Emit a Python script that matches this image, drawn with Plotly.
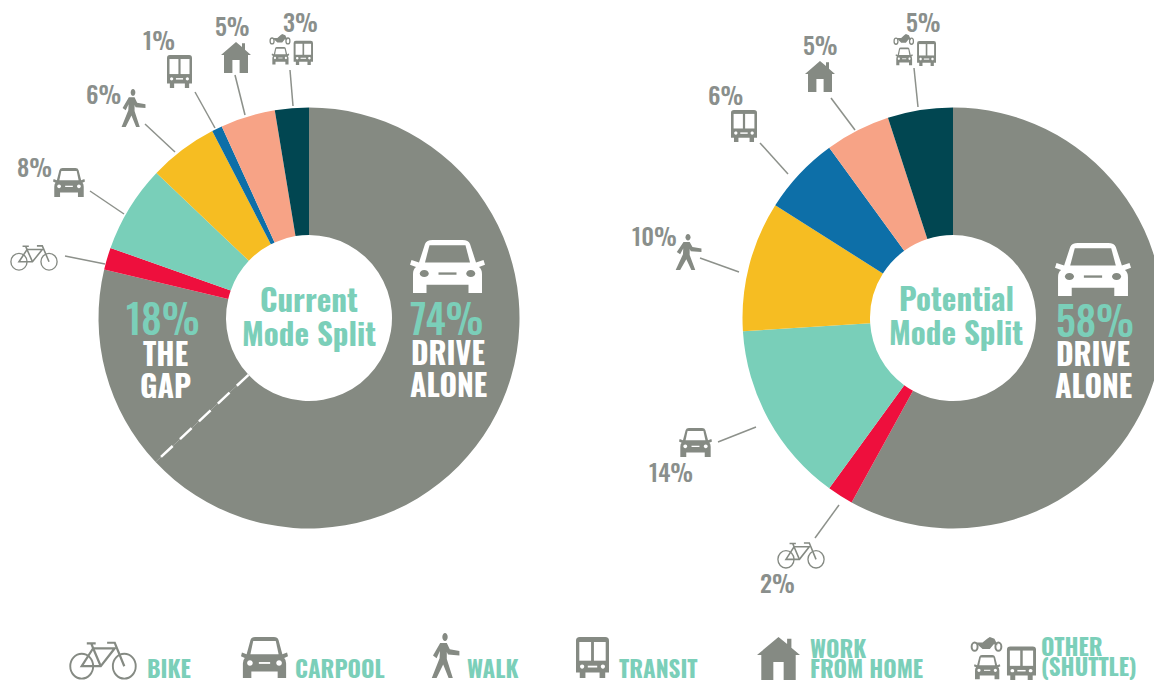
import math, re
import plotly.graph_objects as go

W, H = 1170, 684
GRAY = "#858a82"; TEAL = "#7bcfb9"; WHITE = "#ffffff"; ICON = "#858a83"
FONT = "Liberation Sans Narrow, Oswald, Arial Narrow, sans-serif"

# --- data -------------------------------------------------------------
categories = ["Drive alone", "The gap", "Bike", "Carpool", "Walk", "Transit", "Work from home", "Other (shuttle)"]
slice_colors = ["#858a82", "#858a82", "#ee0f3d", "#79cfb9", "#f6bd22", "#0d6fa8", "#f7a386", "#014651"]
current_values = [63.0, 15.7, 1.7, 6.7, 5.3, 0.8, 4.2, 2.6]
potential_values = [58, 0, 2, 14, 10, 6, 5, 5]

current_labels = ["3%", "5%", "1%", "6%", "8%"]
potential_labels = ["5%", "5%", "6%", "10%", "14%", "2%"]
legend_labels = ["BIKE", "CARPOOL", "WALK", "TRANSIT", "WORK", "FROM HOME", "OTHER", "(SHUTTLE)"]

# --- placement --------------------------------------------------------
CL = (309, 318); CR = (953, 318); R = 210.5; HOLE = 83
shapes, ann = [], []

def px(x): return x / W
def py(y): return 1 - y / H

def text(x, y, s, size, color, weight=700):
    ann.append(dict(x=px(x), y=py(y), xref="paper", yref="paper", showarrow=False,
                    text=s, xanchor="center", yanchor="middle",
                    font=dict(family=FONT, size=size, color=color, weight=weight)))

def line(x0, y0, x1, y1, color="#8d918b", width=1.5, dash=None):
    shapes.append(dict(type="line", xref="paper", yref="paper", x0=px(x0), y0=py(y0), x1=px(x1), y1=py(y1),
                       line=dict(color=color, width=width, dash=dash)))

def circ(cx, cy, r):
    k = 0.5523 * r
    return (f"M{cx-r},{cy} C{cx-r},{cy-k} {cx-k},{cy-r} {cx},{cy-r} C{cx+k},{cy-r} {cx+r},{cy-k} {cx+r},{cy} "
            f"C{cx+r},{cy+k} {cx+k},{cy+r} {cx},{cy+r} C{cx-k},{cy+r} {cx-r},{cy+k} {cx-r},{cy} Z")

def place(parts, box, x0, y0, x1, y1, color, hole):
    bw, bh = box
    sx, sy = (x1 - x0) / bw, (y1 - y0) / bh
    def tr(m):
        return f"{px(x0 + float(m.group(1)) * sx):.5f},{py(y0 + float(m.group(2)) * sy):.5f}"
    for kind, path, *rest in parts:
        p = re.sub(r"(-?[\d.]+),(-?[\d.]+)", tr, path)
        if kind == "fill":
            shapes.append(dict(type="path", xref="paper", yref="paper", path=p, fillcolor=color, line=dict(width=0)))
        elif kind == "hole":
            shapes.append(dict(type="path", xref="paper", yref="paper", path=p, fillcolor=hole, line=dict(width=0)))
        else:
            shapes.append(dict(type="path", xref="paper", yref="paper", path=p, fillcolor="rgba(0,0,0,0)",
                               line=dict(color=color, width=rest[0] * sx)))

CAR = [("fill", "M12,38 L20,7 Q22,0 30,0 L70,0 Q78,0 80,7 L88,38 L98,34 L100,42 L92,46 Q96,50 96,58 L96,90 L78,90 "
                "L78,76 L22,76 L22,90 L4,90 L4,58 Q4,50 8,46 L0,42 L2,34 Z"),
       ("hole", "M26,9 L74,9 L80,38 L20,38 Z"),
       ("hole", circ(19, 57, 6)), ("hole", circ(81, 57, 6)),
       ("hole", "M38,55 L62,55 L62,59 L38,59 Z")]
HOUSE = [("fill", "M50,0 L70,16 L70,4 L80,4 L80,25 L100,42 L90,42 L90,100 L62,100 L62,58 L38,58 L38,100 L10,100 L10,42 L0,42 Z")]
BUS = [("fill", "M8,0 L62,0 Q70,0 70,8 L70,78 L62,78 L62,90 L50,90 L50,78 L20,78 L20,90 L8,90 L8,78 L0,78 L0,8 Q0,0 8,0 Z"),
       ("hole", "M7,11 L32,11 L32,52 L7,52 Z"), ("hole", "M38,11 L63,11 L63,52 L38,52 Z"),
       ("hole", circ(13, 65, 4.5)), ("hole", circ(57, 65, 4.5)), ("hole", "M25,63 L45,63 L45,67 L25,67 Z")]
WALK = [("fill", circ(50, 9, 9)),
        ("fill", "M34,22 L56,22 L66,36 L98,40 L98,50 L60,48 L56,42 L56,58 L76,100 L62,100 L44,70 L22,100 L6,100 "
                 "L32,56 L33,40 L22,56 L10,50 Z")]
BIKE = [("stroke", circ(20, 38, 18), 3), ("stroke", circ(87, 38, 18), 3),
        ("stroke", "M20,38 L38,12 L72,12 L50,38 Z", 3.5),
        ("stroke", "M38,12 L50,38 M87,38 L72,4 L60,4 M38,12 L35,5 M28,5 L42,5", 3.5)]
MOTO = [("stroke", circ(14, 21, 9), 6), ("stroke", circ(86, 21, 9), 6),
        ("fill", "M16,12 L38,12 L52,4 L60,0 L74,4 L84,18 L72,16 L60,26 L38,26 Z")]

def compose(x0, y0, x1, y1, color, hole):
    w, h = x1 - x0, y1 - y0
    place(MOTO, (100, 30), x0, y0, x0 + 0.5 * w, y0 + 0.32 * h, color, hole)
    place(CAR, (100, 90), x0 + 0.06 * w, y0 + 0.42 * h, x0 + 0.46 * w, y1 - 0.02 * h, color, hole)
    place(BUS, (70, 90), x0 + 0.56 * w, y0 + 0.22 * h, x1, y1, color, hole)

def icon(kind, x0, y0, x1, y1, color=ICON, hole=WHITE):
    if kind == "other":
        compose(x0, y0, x1, y1, color, hole)
    else:
        parts, box = {"car": (CAR, (100, 90)), "house": (HOUSE, (100, 100)), "bus": (BUS, (70, 90)),
                      "walk": (WALK, (100, 100)), "bike": (BIKE, (107, 58))}[kind]
        place(parts, box, x0, y0, x1, y1, color, hole)

# --- figure -----------------------------------------------------------
def pie(vals, c):
    return go.Pie(values=vals, labels=categories, sort=False, direction="clockwise", rotation=0, hole=HOLE / R,
                  marker=dict(colors=slice_colors, line=dict(width=0)), textinfo="none", hoverinfo="label+percent",
                  showlegend=False, automargin=False,
                  domain=dict(x=[px(c[0] - R), px(c[0] + R)], y=[py(c[1] + R), py(c[1] - R)]))

# dashed border between drive alone and the gap, from the data
ang = math.radians(360 * current_values[0] / sum(current_values))
line(CL[0] + HOLE * math.sin(ang), CL[1] - HOLE * math.cos(ang),
     CL[0] + R * math.sin(ang), CL[1] - R * math.cos(ang), color=WHITE, width=2.5, dash="16px,10px")

# leader lines
for seg in [(65, 256, 105, 264), (90, 191, 124, 214), (145, 124, 175, 152), (195, 92, 215, 128),
            (235, 75, 245, 115), (290, 70, 293, 106),
            (914, 68, 918, 107), (831, 98, 855, 130), (760, 143, 788, 174), (700, 258, 739, 272),
            (718, 442, 756, 427), (839, 505, 815, 538)]:
    line(*seg)

# chart icons
for it in [("bike", 10, 244, 58, 271), ("car", 53, 168, 85, 197), ("walk", 120, 89, 146, 127),
           ("bus", 167, 55, 192, 88), ("house", 221, 42, 251, 73), ("other", 269, 34, 313, 65),
           ("other", 893, 34, 936, 66), ("house", 805, 61, 835, 92), ("bus", 731, 110, 757, 142),
           ("walk", 674, 234, 702, 270), ("car", 679, 428, 712, 457), ("bike", 777, 541, 825, 569)]:
    icon(*it)
icon("car", 410, 240, 485, 293, WHITE, GRAY)
icon("car", 1055, 243, 1131, 296, WHITE, GRAY)

# legend icons
for it in [("bike", 69, 640, 137, 680), ("car", 241, 637, 288, 678), ("walk", 430, 633, 460, 678),
           ("bus", 576, 637, 609, 678), ("house", 757, 637, 800, 680), ("other", 970, 637, 1036, 680)]:
    icon(*it)

# percent labels
PCT = "#8a8f8c"
for (x, y), s in zip([(301, 21), (233, 25), (159, 39), (103, 93), (34, 166)], current_labels):
    text(x, y, s, 24, PCT, weight=500)
for (x, y), s in zip([(923, 21), (820, 44), (725, 94), (654, 235), (671, 471), (777, 582)], potential_labels):
    text(x, y, s, 24, PCT, weight=500)

# centre and in-slice text
text(309, 298, "Current", 31, TEAL); text(309, 332, "Mode Split", 31, TEAL)
text(956, 297, "Potential", 31, TEAL); text(956, 331, "Mode Split", 31, TEAL)
text(163, 317, "18%", 40, TEAL, weight=500); text(165, 352, "THE", 30, WHITE); text(165, 384, "GAP", 30, WHITE)
text(447, 317, "74%", 40, TEAL, weight=500); text(448, 351, "DRIVE", 30, WHITE); text(448, 383, "ALONE", 30, WHITE)
text(1095, 319, "58%", 40, TEAL, weight=500); text(1093, 352, "DRIVE", 30, WHITE); text(1093, 384, "ALONE", 30, WHITE)

# legend text
for (x, y), s in zip([(169, 668), (340, 668), (492, 668), (658, 668), (838, 648), (866, 668), (1072, 646), (1089, 666)],
                     legend_labels):
    text(x, y, s, 23, TEAL)

fig = go.Figure([pie(current_values, CL), pie(potential_values, CR)])
fig.update_layout(width=W, height=H, margin=dict(l=0, r=0, t=0, b=0), paper_bgcolor="white",
                  shapes=shapes, annotations=ann)
fig.write_html("out.html", config=dict(displayModeBar=False),
               post_script="document.body.style.margin='0';document.documentElement.style.overflow='hidden';document.body.style.overflow='hidden';")
